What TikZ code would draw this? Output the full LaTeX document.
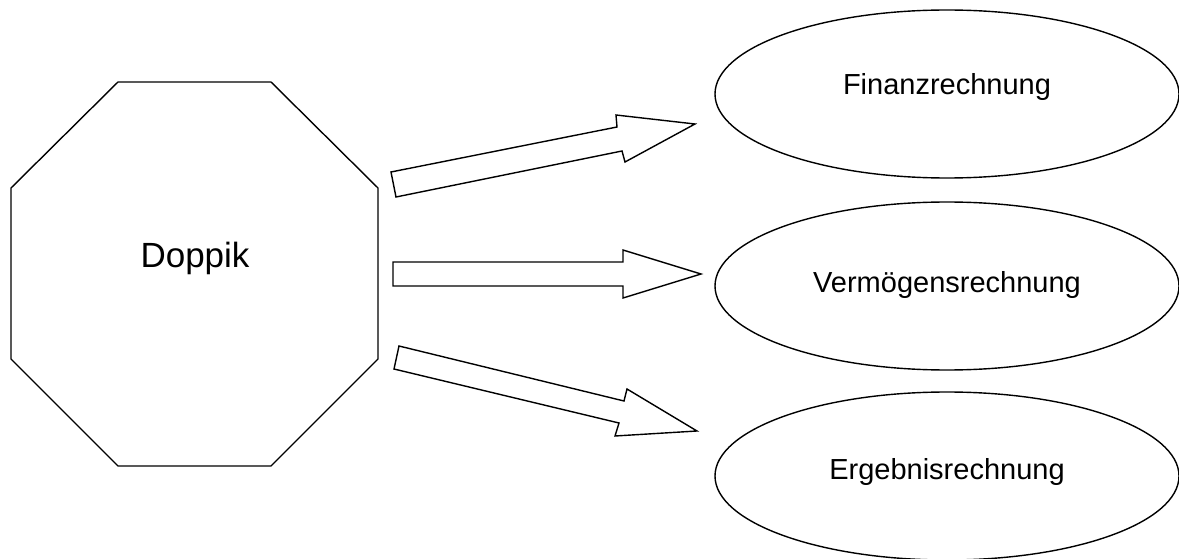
\documentclass[tikz,border=0pt]{standalone}
\usepackage{fontspec}
\setmainfont{Liberation Sans}
\usetikzlibrary{shapes.geometric}
\begin{document}
\begin{tikzpicture}[x=1pt,y=-1pt,
  outline/.style={draw=black,line width=1.4pt,fill=white,line join=miter},
  ell/.style={ellipse,draw=black,line width=1.4pt,fill=white,inner sep=0pt,minimum width=464pt,minimum height=168pt},
  elltext/.style={font=\fontsize{29}{34}\selectfont,anchor=base,inner sep=0pt},
  bigtext/.style={font=\fontsize{35}{42}\selectfont,anchor=base,inner sep=0pt}]
\clip (0,0) rectangle (1179,559);
\fill[white] (0,0) rectangle (1179,559);
% octagon
\draw[outline] (118,82) -- (271,82) -- (378,188) -- (378,359) -- (271,466) -- (118,466) -- (11,359) -- (11,188) -- cycle;
\node[bigtext] (doppik) at (195,267) {Doppik};
% ellipses
\node[ell] (fin) at (947,94) {};
\node[elltext] (fintext) at (947,95) {Finanzrechnung};
\node[ell] (verm) at (947,286) {};
\node[elltext] (vermtext) at (947,292) {Vermögensrechnung};
\node[ell] (erg) at (947,476) {};
\node[elltext] (ergtext) at (947,479) {Ergebnisrechnung};
% block arrows
\draw[outline] (391,172) -- (617,127) -- (616,115) -- (695,124) -- (625,162) -- (622,151) -- (396,197) -- cycle;
\draw[outline] (393,262) -- (623,262) -- (623,250) -- (701,274) -- (623,298) -- (623,286) -- (393,286) -- cycle;
\draw[outline] (399,346) -- (624,401) -- (627,389) -- (697,431) -- (615,436) -- (619,423) -- (394,369) -- cycle;
\end{tikzpicture}
\end{document}
